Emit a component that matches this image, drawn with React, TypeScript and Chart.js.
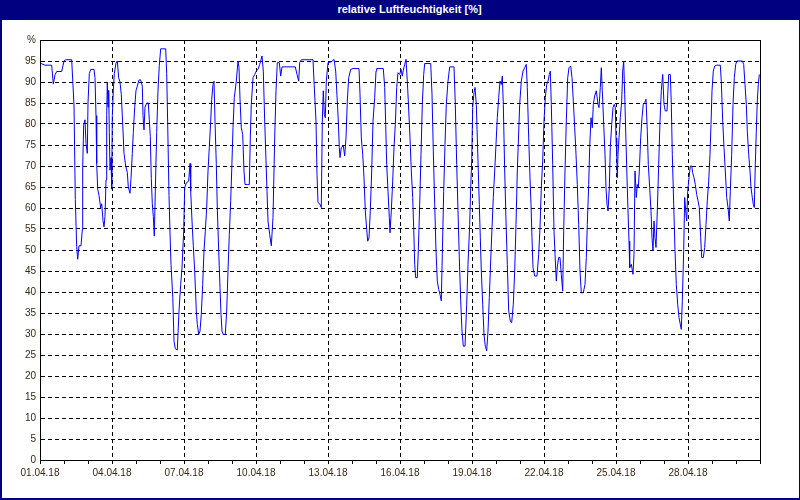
import React, { useEffect, useRef } from 'react';
import { Chart, registerables } from 'chart.js';

Chart.register(...registerables);

const titleText = 'relative Luftfeuchtigkeit [%]';
const dateLabels = ['01.04.18', '04.04.18', '07.04.18', '10.04.18', '13.04.18', '16.04.18', '19.04.18', '22.04.18', '25.04.18', '28.04.18'];

// hours since 01.04.18 00:00
const hours = [
  0, 5, 11.7, 13.3, 15, 16.7, 21.7, 24, 25.7, 31.7, 32.7, 34, 35.3, 36.7, 37.7, 39, 41, 42.3, 42.7, 43.7,
  45, 46, 47.3, 48, 49.3, 50.7, 54, 55, 56, 56.7, 57.7, 59, 60.7, 61.7, 63, 64, 65, 66, 66.7, 67.3,
  68, 68.7, 69.3, 70, 71, 71.7, 72.3, 73.3, 74.3, 76, 77.3, 78.7, 80, 81.3, 82.7, 84, 85.7, 87.3, 88.3, 90,
  91, 92.3, 93.3, 94.7, 96, 97.3, 99, 100.7, 102.3, 103, 104, 105, 106.7, 108.3, 109.3, 110.3, 111.3, 112.3, 113.3, 114.3,
  115.3, 116.7, 118, 119.3, 120.7, 125.7, 126.7, 127.7, 129, 130, 131, 132.8, 134, 135.3, 137.3, 139, 140.7, 142, 143.7, 144.7,
  146.3, 148.7, 150, 150.7, 152, 153.3, 154.7, 156.3, 157.3, 158.7, 160, 161.3, 162.7, 164, 165.3, 166.7, 168, 169.3, 170.7, 171.7,
  173, 174, 175, 176.3, 177.3, 178.7, 180, 181, 182, 183.3, 185.3, 186.7, 188, 189.3, 190.7, 191.7, 193, 194.3, 196.3, 198,
  199, 200, 201.3, 202.7, 204, 205, 207.3, 209.3, 210.3, 211.3, 213, 214.7, 216.3, 218, 219.7, 220.7, 222, 223.3, 224.7, 226,
  227, 228, 229.7, 231.3, 233, 234.7, 236, 237.3, 239.3, 240.7, 242, 255.3, 257, 258.7, 259.7, 261.3, 273, 274, 276, 277,
  278, 280, 281.3, 282.3, 283.3, 284.3, 285.3, 286.3, 288, 291.3, 294, 295.7, 297, 298.3, 299.3, 300, 301.3, 303.3, 304.7, 306,
  307.3, 308.7, 310.7, 313, 319, 320, 321.3, 322.7, 324, 325.3, 326.7, 327.7, 329, 330.3, 331.7, 333, 334.7, 336, 336.7, 343.3,
  344.7, 345.7, 346.7, 348, 349.3, 350, 351.3, 352.7, 354, 355.3, 356.7, 358, 359.7, 361, 362.3, 363.3, 364.7, 366, 367.3, 368.3,
  370, 371.3, 372.7, 373.7, 374.7, 375.7, 377.3, 378.3, 379.7, 381, 382.3, 383.7, 384.7, 390.7, 392, 393.3, 394.7, 396, 397.3, 398.7,
  400, 401.3, 402.3, 403.7, 405, 406.3, 408, 409.7, 414, 415.3, 416.7, 418, 419.3, 420.7, 422, 423.3, 425, 426.7, 428, 429.7,
  430.7, 431.7, 432.7, 434, 435, 436.3, 437.3, 438.3, 439.3, 440.3, 441.3, 442.7, 444, 445.3, 446.7, 448, 449.3, 450.7, 452, 453.3,
  454.7, 456, 457.3, 458.7, 460, 461.3, 462.3, 463.3, 464.7, 466, 467.3, 468.7, 470.3, 471.7, 473.3, 474.7, 476, 477.3, 479.7, 481.3,
  483, 484.7, 486.3, 487.3, 488.7, 490, 491, 492, 493, 494.7, 497, 498.7, 500, 501.3, 502.7, 504, 505.3, 506.7, 508, 509.3,
  510.3, 511.3, 512.7, 514, 515, 516.3, 517.3, 518.7, 520, 521.3, 522.7, 523.7, 525, 526.3, 527.7, 529, 530.7, 532, 533.3, 534.7,
  536, 537.3, 538.7, 540, 541.3, 543.3, 545, 546.3, 547.3, 548.7, 549.7, 551, 552.3, 553.3, 554.7, 556.3, 558, 559, 560.3, 561.3,
  562.3, 563.7, 565, 566, 567, 568, 569.3, 570.3, 571.7, 573, 574.3, 575.3, 576, 576.7, 577.3, 578, 579, 580.3, 581.7, 582.7,
  583.7, 584.7, 585.7, 587, 588, 589, 589.7, 591.3, 593, 594, 595, 596.3, 597.3, 598.3, 599.3, 600.7, 602, 603.3, 604.7, 606,
  607.3, 608.3, 609.7, 611, 612, 613, 614, 615, 616, 617.3, 618.7, 620, 621.3, 622.7, 624, 625.3, 627, 628.7, 630.3, 631.3,
  632.3, 633.7, 635, 636.3, 637.7, 639, 640.3, 641.3, 642.3, 643.7, 644.7, 645.7, 646.7, 647.7, 649, 650.3, 651.7, 652.7, 654, 655.3,
  656.7, 658, 659.3, 660.7, 661.7, 663.3, 664.7, 666, 667.3, 668.7, 670, 671, 672, 673.3, 674.7, 676.3, 680.3, 681.3, 682.7, 684,
  685.3, 686.7, 688, 689.3, 690.3, 691.7, 693, 694.3, 695.7, 697, 702.3, 703.7, 705, 706.3, 707.3, 708.7, 710, 711, 712.3, 713.3,
  714.3, 715.3, 716.3, 717.3, 718.3, 719.3
];

const humidity = [
  94.5, 94, 94, 89.5, 91.7, 92.5, 92.5, 95, 95.3, 95.3, 90.5, 84.5, 62, 50.8, 47.8, 51, 51, 54.8, 69.8, 79.8,
  81, 75.4, 73, 85, 92, 93, 93, 91, 82, 70.6, 64.5, 63, 60, 61, 57, 55.5, 58, 66.7, 82, 90,
  84, 88, 78, 69, 72, 64.5, 82, 88, 92, 94.5, 95, 91, 90, 87, 80, 73, 70, 68.5, 65, 63.5,
  67, 73, 78, 84, 88, 89, 90.5, 90.5, 89, 82, 78.6, 84, 85, 85, 81, 77, 67, 61, 58, 53.3,
  64, 78, 88, 94, 97.9, 97.9, 92, 80, 63, 54, 46.6, 38.7, 28.3, 26.5, 26.2, 35.5, 41.8, 45.8, 54.5, 64.8,
  66, 66.4, 70.6, 64, 56.9, 51, 45, 35.5, 32.3, 29.9, 30.7, 34.7, 41.8, 49.8, 54.5, 60, 68.8, 74.4, 80.7, 85.9,
  89.4, 90.2, 80.7, 70.4, 60, 49.8, 41, 34.7, 30.7, 29.9, 29.9, 35.5, 45, 53.7, 61.7, 68.8, 79.1, 86.3, 90.2, 95,
  93.4, 86, 79.1, 77.5, 68.8, 65.6, 65.6, 65.6, 76.7, 84.7, 91, 91.8, 92.6, 93, 94.2, 95, 96.2, 92.6, 80.7, 71.2,
  64, 56.9, 53.7, 51, 57.7, 76.7, 87.9, 94.6, 94.6, 91.4, 93.6, 93.6, 91.8, 90.2, 94.6, 95.3, 95.3, 90.2, 80.7, 68,
  61.3, 60.9, 60.1, 80.7, 87.9, 82.3, 81.5, 90.2, 94.6, 94.8, 95.4, 92.6, 86.7, 80.7, 74.4, 72, 74.4, 74.8, 72.4, 76.7,
  85.5, 91, 93, 93.2, 93.2, 87.1, 76.7, 72.8, 67.2, 59.3, 54.9, 52.1, 52.9, 59.3, 68.8, 80.7, 86.3, 92.6, 93.2, 93.2,
  88.7, 79.9, 70.4, 64, 57.7, 54.1, 59.3, 66.4, 74.4, 79.9, 88.7, 92.2, 91.8, 93, 91.4, 92.8, 94.2, 95.4, 90.2, 85.5,
  76.7, 68.8, 62.5, 55.3, 46.6, 43.4, 43.4, 49.8, 60.9, 72.8, 84.7, 91.8, 94.4, 94.4, 87.1, 73.6, 60.9, 49.8, 42.6, 40.6,
  39.4, 37.9, 49, 64, 75.2, 84.7, 90.2, 93.6, 93.6, 84.7, 70.4, 59.3, 48.2, 37.9, 30.7, 27.1, 27.1, 37.1, 46.6, 56.1,
  64.8, 71.2, 83.9, 87.5, 88.7, 84.7, 76.7, 68.8, 60.9, 52.9, 45, 37.1, 29.9, 27.1, 26, 30.7, 38.7, 47.4, 55.3, 62.5,
  68.8, 75.2, 81.5, 86.3, 90.2, 89.4, 91.4, 84.7, 68.8, 56.9, 46.6, 35.5, 33.1, 32.7, 37.1, 45, 56.1, 68.8, 84.7, 90.2,
  92.6, 93.4, 94.2, 88.7, 76.7, 67.2, 60.9, 52.9, 45.8, 43.8, 43.8, 49, 55.3, 64.8, 71.2, 80.7, 86.3, 89.4, 90.2, 91.8,
  92.6, 84.7, 70.4, 54.5, 49, 42.6, 46, 48.2, 48.2, 44.2, 40.2, 54.5, 68.8, 80.7, 91, 93.4, 93.8, 91, 85.5, 79.1,
  72.8, 65.6, 56.1, 45, 39.8, 39.8, 41.8, 48.2, 56.1, 65.6, 74.4, 81.5, 79.1, 84.7, 86.7, 87.9, 84.7, 83.9, 88.7, 93.4,
  88, 79.9, 72.8, 64.8, 60.9, 59.3, 64.8, 74.4, 79.9, 83.9, 84.7, 83.9, 76.7, 72.8, 67.2, 72.8, 76.7, 81.5, 85.5, 92.6,
  95, 87.1, 78.3, 67.2, 59.3, 52.1, 45.8, 46.6, 44.2, 49, 68.8, 62.5, 65.6, 64.8, 68.8, 76.7, 81.5, 84.7, 85.1, 85.9,
  78.3, 70.4, 64.8, 59.3, 52.9, 49.8, 56.9, 52.9, 50.6, 59.3, 70.4, 80.7, 87.9, 91.8, 84.7, 83.1, 83.1, 91.8, 91.8, 84.7,
  72.8, 60.9, 49.8, 41.8, 37.1, 33.9, 32.3, 31.1, 37.9, 49.8, 62.5, 59.3, 56.9, 64, 67.2, 70, 70, 68.4, 67.2, 65.6,
  63.2, 61.7, 60.1, 52.9, 48.2, 48.2, 50.6, 56.1, 61.7, 66.4, 72.8, 79.9, 87.9, 92.6, 93.8, 94, 94, 90.2, 80.7, 74.4,
  68.8, 62.5, 60.1, 56.9, 64, 72.8, 84.7, 91, 94.2, 95, 95, 94.2, 89.4, 84.7, 78.3, 72.8, 68.8, 64.8, 62.5, 60.9,
  60.1, 70.4, 78.3, 85.5, 89.4, 91.8
];

const NAVY = '#000080';
const LABEL_COLOR = '#3c2810';

export default function App() {
  const canvasRef = useRef<HTMLCanvasElement | null>(null);

  useEffect(() => {
    document.body.style.margin = '0';
    const canvas = canvasRef.current;
    if (!canvas) return;

    const boxPlugin = {
      id: 'plotBox',
      afterDraw(chart: any) {
        const { ctx, chartArea: a } = chart;
        ctx.save();
        ctx.setLineDash([]);
        ctx.strokeStyle = '#000';
        ctx.lineWidth = 1;
        const l = Math.round(a.left) + 0.5;
        const t = Math.round(a.top) + 0.5;
        const r = Math.round(a.right) + 0.5;
        const b = Math.round(a.bottom) + 0.5;
        ctx.strokeRect(l, t, r - l, b - t);
        ctx.restore();
      },
    };

    const chart = new Chart(canvas, {
      type: 'line',
      data: {
        datasets: [
          {
            label: titleText,
            data: hours.map((h, i) => ({ x: h, y: humidity[i] })),
            borderColor: '#0000ff',
            borderWidth: 1,
            pointRadius: 0,
            tension: 0,
            fill: false,
          },
        ],
      },
      options: {
        animation: false,
        responsive: false,
        layout: { padding: { top: 40, right: 40, left: 0, bottom: 0 } },
        plugins: {
          legend: { display: false },
          tooltip: { enabled: false },
          title: { display: false },
        },
        scales: {
          x: {
            type: 'linear',
            min: 0,
            max: 720,
            afterFit: (s: any) => {
              s.height = 40;
            },
            ticks: {
              stepSize: 24,
              autoSkip: false,
              maxRotation: 0,
              minRotation: 0,
              padding: 3,
              color: LABEL_COLOR,
              font: { family: 'Liberation Sans', size: 10 },
              callback: (v: any) => {
                const n = Math.round(Number(v));
                return n % 72 === 0 && n < 720 ? dateLabels[n / 72] : '';
              },
            },
            grid: {
              color: (c: any) => {
                const n = Math.round(c.tick ? c.tick.value : -1);
                return n % 72 === 0 && n > 0 && n < 720 ? '#000' : 'rgba(0,0,0,0)';
              },
              tickColor: '#000',
              tickLength: 4,
              drawTicks: true,
              lineWidth: 1,
            },
            border: { display: true, color: '#000', width: 1, dash: [4, 3] },
          },
          y: {
            min: 0,
            max: 100,
            afterFit: (s: any) => {
              s.width = 40;
            },
            ticks: {
              stepSize: 5,
              autoSkip: false,
              padding: 4,
              color: LABEL_COLOR,
              font: { family: 'Liberation Sans', size: 10 },
              callback: (v: any) => (Number(v) === 100 ? '%' : String(v)),
            },
            grid: {
              color: (c: any) => {
                const n = c.tick ? c.tick.value : -1;
                return n > 0 && n < 100 ? '#000' : 'rgba(0,0,0,0)';
              },
              drawTicks: false,
              lineWidth: 1,
            },
            border: { display: true, color: '#000', width: 1, dash: [4, 3] },
          },
        },
      },
      plugins: [boxPlugin],
    });

    return () => {
      chart.destroy();
    };
  }, []);

  return (
    <div style={{ position: 'relative', width: 800, height: 500, background: '#ffffff', overflow: 'hidden' }}>
      <canvas ref={canvasRef} width={800} height={500} style={{ position: 'absolute', left: 0, top: 0, display: 'block' }} />
      <div
        style={{
          position: 'absolute',
          left: 0,
          top: 0,
          width: 800,
          height: 20,
          boxSizing: 'border-box',
          paddingLeft: 19,
          background: NAVY,
          color: '#ffffff',
          fontFamily: '"Liberation Sans", Arial, sans-serif',
          fontWeight: 'bold',
          fontSize: 11,
          lineHeight: '18px',
          textAlign: 'center',
          whiteSpace: 'nowrap',
        }}
      >
        {titleText}
      </div>
      <div
        style={{
          position: 'absolute',
          left: 0,
          top: 0,
          width: 800,
          height: 500,
          boxSizing: 'border-box',
          borderTop: '0px',
          borderLeft: `2px solid ${NAVY}`,
          borderRight: `1px solid ${NAVY}`,
          borderBottom: `2px solid ${NAVY}`,
          pointerEvents: 'none',
        }}
      />
    </div>
  );
}
